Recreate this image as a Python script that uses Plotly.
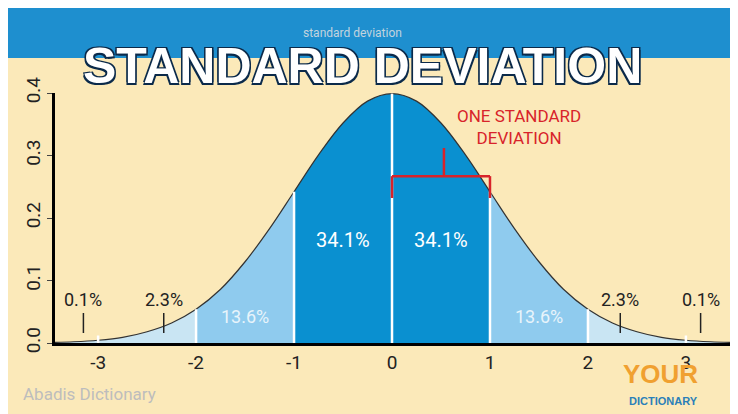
import plotly.graph_objects as go

# Density values (x in standard deviations)
xs = [-3.5, -3.25, -3.0, -2.75, -2.5, -2.25, -2.0, -1.75, -1.5, -1.25, -1.0, -0.75, -0.5, -0.25,
      0.0, 0.25, 0.5, 0.75, 1.0, 1.25, 1.5, 1.75, 2.0, 2.25, 2.5, 2.75, 3.0, 3.25, 3.5]
ys = [0.0009, 0.002, 0.0044, 0.009, 0.018, 0.032, 0.054, 0.086, 0.130, 0.183, 0.242, 0.301, 0.352, 0.387,
      0.399, 0.387, 0.352, 0.301, 0.242, 0.183, 0.130, 0.086, 0.054, 0.032, 0.018, 0.009, 0.0044, 0.002, 0.0009]
xticks = [-3, -2, -1, 0, 1, 2, 3]
yticks = [0.0, 0.1, 0.2, 0.3, 0.4]
yticklabels = ["0.0", "0.1", "0.2", "0.3", "0.4"]
inner_labels = [(-0.5, "34.1%"), (0.5, "34.1%")]
mid_labels = [(-1.5, "13.6%"), (1.5, "13.6%")]
outer_labels = [(-2.33, "2.3%"), (2.33, "2.3%"), (-3.15, "0.1%"), (3.15, "0.1%")]

DARK, MID, LIGHT = "#0a90d0", "#8fcbee", "#c9e5f3"
FONT = "Roboto"

def band(lo, hi):
    px = [x for x in xs if lo <= x <= hi]
    py = [y for x, y in zip(xs, ys) if lo <= x <= hi]
    return px, py

fig = go.Figure()
for lo, hi, col in [(-3.5, -2, LIGHT), (2, 3.5, LIGHT), (-2, -1, MID), (1, 2, MID), (-1, 1, DARK)]:
    bx, by = band(lo, hi)
    fig.add_trace(go.Scatter(x=bx, y=by, fill="tozeroy", fillcolor=col, mode="lines",
                             line=dict(width=0, shape="spline"), hoverinfo="skip", showlegend=False))
fig.add_trace(go.Scatter(x=xs, y=ys, mode="lines", line=dict(color="#333", width=1.2, shape="spline"),
                         showlegend=False))

shapes = []
ymap = dict(zip(xs, ys))
for v in [-3, -2, -1, 0, 1, 2, 3]:
    h = ymap[float(v)]
    shapes.append(dict(type="line", x0=v, x1=v, y0=0, y1=h if abs(v) < 3 else 0.012,
                       line=dict(color="white", width=2.5)))
red = "#d8232a"
shapes += [
    dict(type="line", x0=0, x1=1, y0=0.267, y1=0.267, line=dict(color=red, width=2.5)),
    dict(type="line", x0=0, x1=0, y0=0.267, y1=0.232, line=dict(color=red, width=2.5)),
    dict(type="line", x0=1, x1=1, y0=0.267, y1=0.232, line=dict(color=red, width=2.5)),
    dict(type="line", x0=0.53, x1=0.53, y0=0.267, y1=0.312, line=dict(color=red, width=2.5)),
]
for xv, _ in outer_labels:
    shapes.append(dict(type="line", x0=xv, x1=xv, y0=0.016, y1=0.048, line=dict(color="#222", width=1.5)))
shapes.append(dict(type="rect", xref="paper", yref="paper", x0=-0.08, x1=1.04, y0=1.14, y1=1.40,
                   fillcolor="#1e8fcf", line=dict(width=0), layer="below"))

ann = []
for xv, t in inner_labels:
    ann.append(dict(x=xv, y=0.165, text=t, showarrow=False, font=dict(color="white", size=20, family=FONT)))
for xv, t in mid_labels:
    ann.append(dict(x=xv, y=0.043, text=t, showarrow=False, font=dict(color="#e8f4fb", size=18, family=FONT)))
for xv, t in outer_labels:
    ann.append(dict(x=xv, y=0.069, text=t, showarrow=False, font=dict(color="#222", size=18, family=FONT)))
ann.append(dict(x=0, y=0.425, text="MEAN", showarrow=False, font=dict(color=red, size=17, family=FONT)))
ann.append(dict(x=1.3, y=0.345, text="ONE STANDARD<br>DEVIATION", showarrow=False,
                font=dict(color=red, size=17, family=FONT)))
sh = "1.5px 1.5px 0 #0b2a4a, -1.5px -1.5px 0 #0b2a4a, 1.5px -1.5px 0 #0b2a4a, -1.5px 1.5px 0 #0b2a4a"
ann.append(dict(xref="paper", yref="paper", x=0.455, y=1.228, text="<b>STANDARD DEVIATION</b>", showarrow=False,
                font=dict(color="white", size=50, family="Liberation Sans", shadow=sh)))
ann.append(dict(xref="paper", yref="paper", x=0.44, y=1.275, text="standard deviation", showarrow=False,
                font=dict(color="rgba(225,225,225,0.85)", size=12, family=FONT)))
ann.append(dict(xref="paper", yref="paper", x=-0.05, y=-0.25, xanchor="left", text="Abadis Dictionary", showarrow=False,
                font=dict(color="#bdbdbd", size=17, family=FONT)))
ann.append(dict(xref="paper", yref="paper", x=0.955, y=-0.19, text="<b>YOUR</b>", showarrow=False,
                font=dict(color="#f0a030", size=26, family="Liberation Sans")))
ann.append(dict(xref="paper", yref="paper", x=0.955, y=-0.262, text="<b>DICTIONARY</b>", showarrow=False,
                font=dict(color="#2a7fb8", size=11, family="Liberation Sans")))

fig.update_layout(
    width=738, height=414, margin=dict(l=47, r=16, t=85, b=79, autoexpand=False),
    paper_bgcolor="#fbe9b9", plot_bgcolor="#fbe9b9",
    shapes=shapes, annotations=ann,
    xaxis=dict(range=[-3.44, 3.45], tickvals=xticks, ticktext=[str(v) for v in xticks], automargin=False,
               showgrid=False, zeroline=False, showline=True, linecolor="black", linewidth=3,
               ticks="", tickfont=dict(size=19, color="#222", family=FONT)),
    yaxis=dict(range=[0, 0.4], tickvals=yticks, ticktext=yticklabels, tickangle=-90, automargin=False,
               showgrid=False, zeroline=False, showline=True, linecolor="black", linewidth=2.5,
               ticks="outside", ticklen=5, tickfont=dict(size=19, color="#222", family=FONT)),
)
fig.write_html("out.html")
